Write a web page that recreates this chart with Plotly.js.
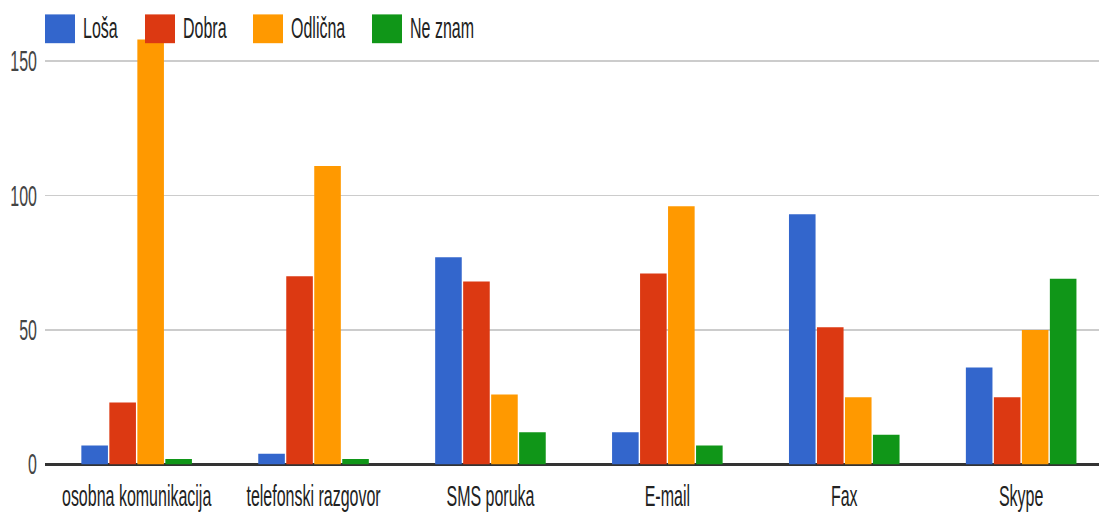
<!DOCTYPE html>
<html>
<head>
<meta charset="utf-8">
<script src="https://cdn.plot.ly/plotly-3.0.1.min.js"></script>
<style>
html,body{margin:0;padding:0;background:#fff;overflow:hidden;}
#wrap{width:1099px;height:513px;overflow:hidden;}
#chart{width:1099px;height:285px;transform-origin:0 0;}
</style>
</head>
<body>
<div id="wrap"><div id="chart"></div></div>
<script>
const categories = ['osobna komunikacija', 'telefonski razgovor', 'SMS poruka', 'E-mail', 'Fax', 'Skype'];
const seriesNames = ['Loša', 'Dobra', 'Odlična', 'Ne znam'];
const losa = [7, 4, 77, 12, 93, 36];
const dobra = [23, 70, 68, 71, 51, 25];
const odlicna = [158, 111, 26, 96, 25, 50];
const neZnam = [2, 2, 12, 7, 11, 69];
const yTicks = [0, 50, 100, 150];

const colors = ['#3366cc', '#dc3912', '#ff9900', '#109618'];
const seriesValues = [losa, dobra, odlicna, neZnam];
const FONT = '"Liberation Sans", Arial, sans-serif';

// The reference picture is vertically stretched; draw at a base height and stretch.
const W = 1099, H = 285, SCALE_Y = 513 / 285;
const ML = 45, MR = 0, MT = 19, MB = 27;
const PW = W - ML - MR, PH = H - MT - MB;
const px2x = p => (p - ML) / PW;
const py2y = p => (H - MB - p) / PH;

const traces = seriesValues.map((vals, i) => ({
  type: 'bar',
  name: seriesNames[i],
  x: categories,
  y: vals,
  marker: {color: colors[i], line: {width: 0}},
  hoverinfo: 'x+y+name'
}));

// custom legend with wide swatches like the reference
const legendLeft = [45, 145, 253, 372];
const swW = 30, swH = 16, swTop = 8;
const shapes = [], annotations = [];
seriesNames.forEach((n, i) => {
  shapes.push({
    type: 'rect', xref: 'paper', yref: 'paper',
    x0: px2x(legendLeft[i]), x1: px2x(legendLeft[i] + swW),
    y0: py2y(swTop + swH), y1: py2y(swTop),
    fillcolor: colors[i], line: {width: 0}
  });
  annotations.push({
    xref: 'paper', yref: 'paper',
    x: px2x(legendLeft[i] + swW + 6), y: py2y(swTop + swH / 2),
    xanchor: 'left', yanchor: 'middle', showarrow: false,
    text: n, font: {family: FONT, size: 16, color: '#222222'}
  });
});

const layout = {
  width: W, height: H,
  margin: {l: ML, r: MR, t: MT, b: MB, pad: 0},
  paper_bgcolor: '#ffffff', plot_bgcolor: '#ffffff',
  showlegend: false,
  barmode: 'group',
  bargap: 0.367,
  bargroupgap: 0.05,
  font: {family: FONT, size: 16, color: '#222222'},
  xaxis: {
    type: 'category',
    range: [-0.518, 5.44],
    showgrid: false, zeroline: false, showline: false,
    ticks: '', tickangle: 0,
    tickfont: {family: FONT, size: 16, color: '#222222'},
    ticklabelstandoff: 6,
    fixedrange: true
  },
  yaxis: {
    range: [0, 160],
    tickvals: yTicks,
    ticktext: yTicks.map(String),
    showgrid: true, gridcolor: '#cccccc', gridwidth: 1,
    zeroline: true, zerolinecolor: '#333333', zerolinewidth: 1.5,
    showline: false, ticks: '',
    tickfont: {family: FONT, size: 16, color: '#444444'},
    ticklabelstandoff: 7,
    fixedrange: true
  },
  shapes: shapes,
  annotations: annotations
};

Plotly.newPlot('chart', traces, layout, {displayModeBar: false, staticPlot: true}).then(() => {
  document.getElementById('chart').style.transform = 'scaleY(' + SCALE_Y + ')';
});
</script>
</body>
</html>
